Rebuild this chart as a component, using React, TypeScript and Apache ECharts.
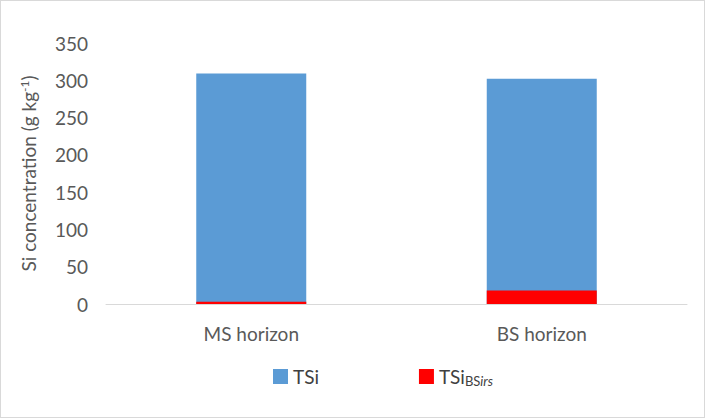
import { useEffect, useRef } from 'react';
import * as echarts from 'echarts';

const categories = ['MS horizon', 'BS horizon'];
const tsiValues = [309, 302];
const tsiBsirsValues = [3, 18];
const yTicks = { min: 0, max: 350, interval: 50 };

export default function App() {
  const chartRef = useRef<HTMLDivElement>(null);

  useEffect(() => {
    if (!chartRef.current) return;
    const chart = echarts.init(chartRef.current, undefined, { renderer: 'svg' });
    const font = 'Lato, "Open Sans", sans-serif';

    chart.setOption({
      animation: false,
      textStyle: { fontFamily: font },
      grid: { left: 105, right: 17, top: 42, bottom: 113 },
      legend: {
        bottom: 25,
        left: 267,
        itemWidth: 15,
        itemHeight: 15,
        itemGap: 100,
        icon: 'rect',
        data: ['TSi', 'TSiBSirs'],
        formatter: (name: string) =>
          name === 'TSi' ? '{a|TSi}' : '{a|TSi}{b|BS}{c|irs}',
        textStyle: {
          color: '#404040',
          rich: {
            a: { fontSize: 19, color: '#404040', fontFamily: font, padding: [0, 0, 0, 0] },
            b: { fontSize: 13, color: '#404040', fontFamily: font, verticalAlign: 'bottom', padding: [8, 0, 0, 0] },
            c: { fontSize: 13, color: '#404040', fontFamily: font, fontStyle: 'italic', verticalAlign: 'bottom', padding: [8, 0, 0, 0] },
          },
        },
      },
      xAxis: {
        type: 'category',
        data: categories,
        axisTick: { show: false },
        axisLine: { lineStyle: { color: '#d9d9d9' } },
        axisLabel: { color: '#595959', fontSize: 19, margin: 20 },
      },
      yAxis: {
        type: 'value',
        ...yTicks,
        splitLine: { show: false },
        axisLine: { show: false },
        axisLabel: { color: '#595959', fontSize: 19, margin: 18 },
        name: '{a|Si concentration (g kg}{s|-1}{a|)}',
        nameLocation: 'center',
        nameGap: 68,
        nameTextStyle: {
          rich: {
            a: { fontSize: 19, color: '#595959', fontFamily: font },
            s: { fontSize: 12, color: '#595959', fontFamily: font, verticalAlign: 'top', padding: [0, 0, 8, 0] },
          },
        },
      },
      series: [
        {
          name: 'TSi',
          type: 'bar',
          data: tsiValues,
          barWidth: 110,
          itemStyle: { color: '#5b9bd5' },
        },
        {
          name: 'TSiBSirs',
          type: 'bar',
          data: tsiBsirsValues,
          barWidth: 110,
          barGap: '-100%',
          itemStyle: { color: '#ff0000' },
        },
      ],
    });

    return () => chart.dispose();
  }, []);

  return (
    <div
      style={{
        position: 'fixed',
        left: 0,
        top: 0,
        width: 703,
        height: 416,
        border: '1px solid #d9d9d9',
        background: '#fff',
      }}
    >
      <div ref={chartRef} style={{ width: 703, height: 416 }} />
    </div>
  );
}
